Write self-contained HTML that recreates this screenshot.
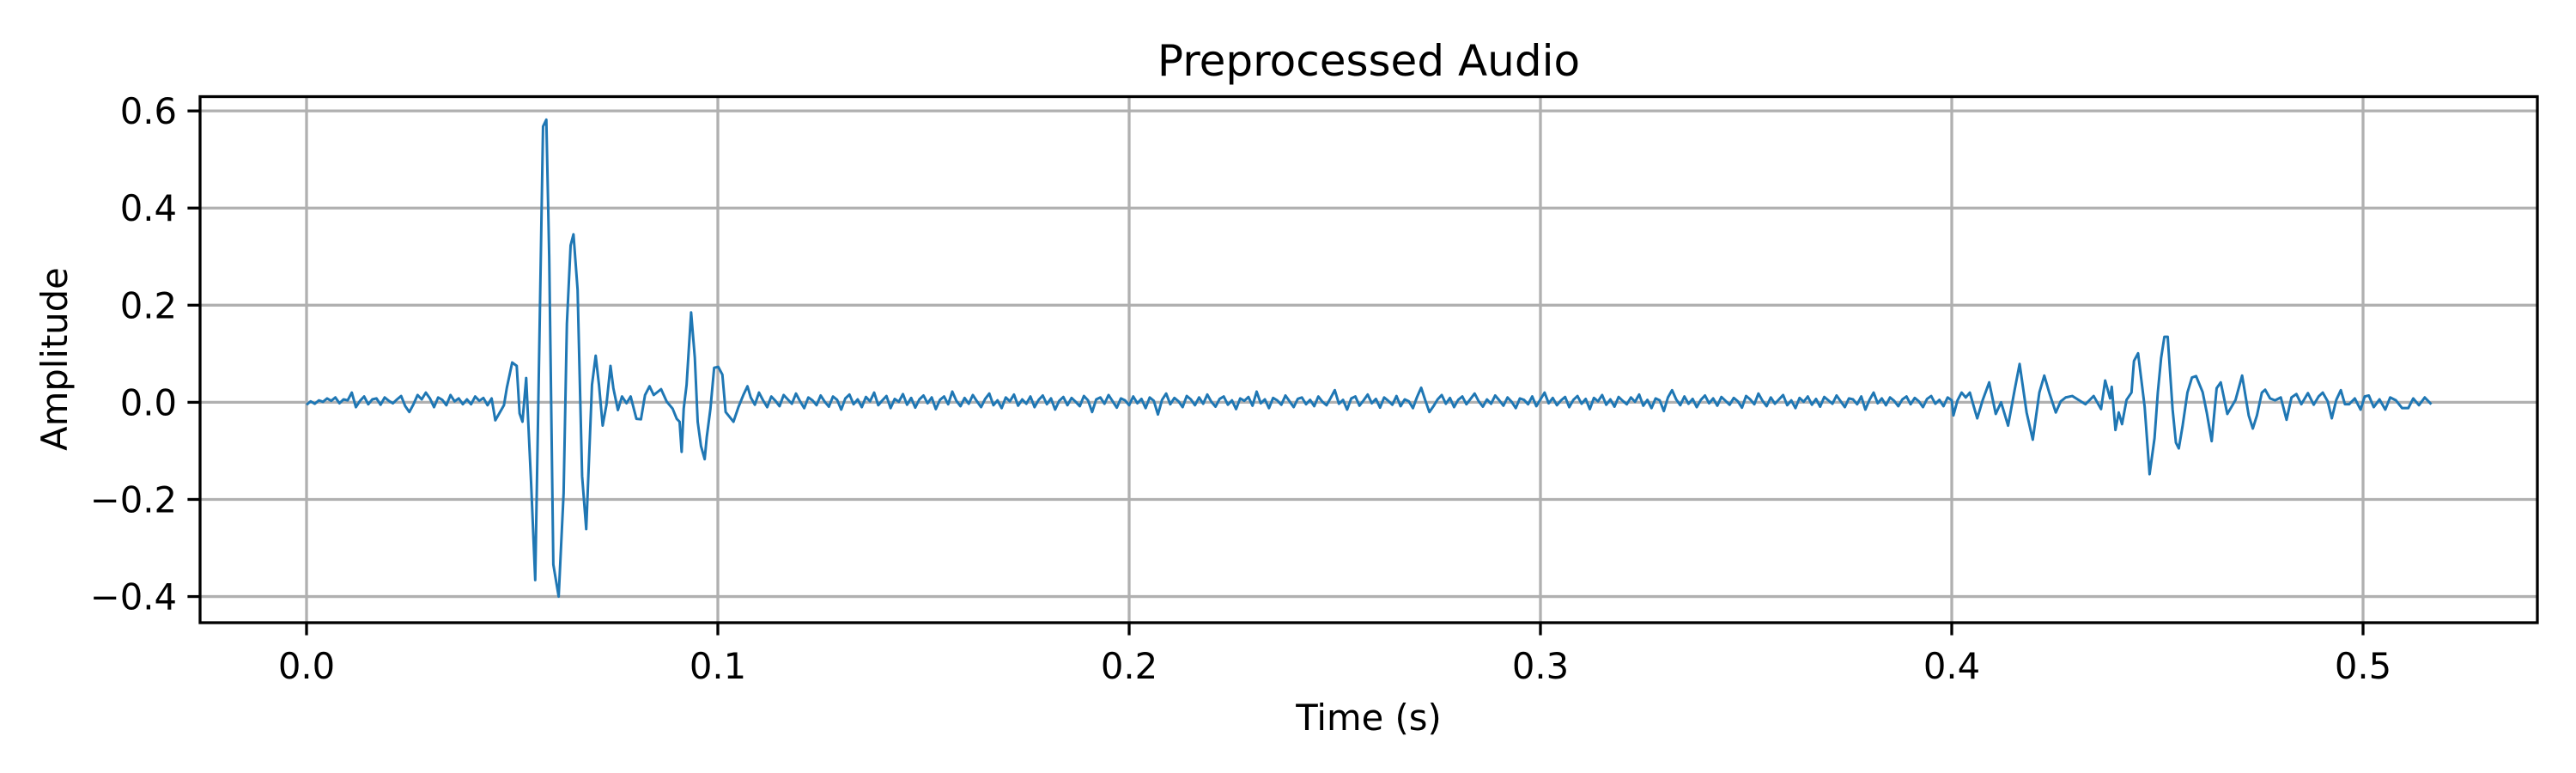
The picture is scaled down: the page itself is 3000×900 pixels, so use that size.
<!DOCTYPE html>
<html><head><meta charset="utf-8"><style>
html,body{margin:0;padding:0;background:#fff;}
svg{display:block;font-family:"DejaVu Sans","Liberation Sans",sans-serif;}
</style></head><body>
<svg id="chart" width="3000" height="900" viewBox="0 0 3000 900">
<rect x="0" y="0" width="3000" height="900" fill="#fff"/>
<g id="grid"></g>
<g id="series"></g>
<rect x="233" y="112.5" width="2722" height="612.5" fill="none" stroke="#000" stroke-width="3.3"/>
<g id="ticks"></g>
<text x="1594" y="88" font-size="50" text-anchor="middle">Preprocessed Audio</text>
<text x="1594" y="850" font-size="41.7" text-anchor="middle">Time (s)</text>
<text x="0" y="0" font-size="41.7" text-anchor="middle" transform="translate(78,418) rotate(-90)">Amplitude</text>
</svg>
<script>
const xTicks = [0.0, 0.1, 0.2, 0.3, 0.4, 0.5];
const xTickLabels = ["0.0", "0.1", "0.2", "0.3", "0.4", "0.5"];
const yTicks = [-0.4, -0.2, 0.0, 0.2, 0.4, 0.6];
const yTickLabels = ["\u22120.4", "\u22120.2", "0.0", "0.2", "0.4", "0.6"];

const segAStart = 0.0;
const segAStep = 0.001;
const segAValues = [-0.005,0.002,-0.003,0.004,0.001,0.008,0.003,0.01,-0.002,0.006,0.004,0.02,-0.01,0.003,0.012,-0.004,0.006,0.008,-0.005,0.01,0.003,-0.002,0.006,0.013,-0.008,-0.02,-0.004,0.015,0.006,0.02,0.008,-0.01,0.01,0.005,-0.006,0.015,0.002,0.008,-0.004];

const burst1Times = [0.039,0.040,0.041,0.042,0.043,0.044,0.045,0.0459,0.048,0.0487,0.0500,0.0511,0.0518,0.0525,0.0534,0.0546,0.0556,0.0564,0.0575,0.0583,0.0590,0.0600,0.0613,0.0625,0.0633,0.0642,0.0649,0.0659,0.0670,0.0680,0.0694,0.0703,0.0711,0.0720,0.0729,0.0739,0.0746,0.0757,0.0767,0.0778,0.0788,0.0802,0.0813,0.0823,0.0834,0.0844,0.0862,0.0876,0.0890,0.0900,0.0907,0.0912,0.0917,0.0924,0.0935,0.0944,0.0951,0.0959,0.0968,0.0973,0.0982,0.0991,0.1001,0.1011,0.1019,0.1038,0.1050,0.1062,0.1072];
const burst1Values = [0.006,-0.004,0.012,0.003,0.009,-0.006,0.008,-0.037,-0.006,0.03,0.082,0.075,-0.023,-0.04,0.05,-0.166,-0.366,0.022,0.568,0.582,0.30,-0.334,-0.40,-0.187,0.162,0.323,0.346,0.232,-0.152,-0.261,0.036,0.096,0.036,-0.048,-0.006,0.075,0.029,-0.016,0.012,-0.002,0.012,-0.034,-0.035,0.015,0.033,0.015,0.027,0.001,-0.013,-0.034,-0.04,-0.102,-0.013,0.036,0.185,0.092,-0.04,-0.09,-0.117,-0.072,-0.013,0.071,0.073,0.057,-0.02,-0.04,-0.01,0.015,0.033];

const segBStart = 0.108;
const segBStep = 0.001;
const segBValues = [0.01,-0.005,0.02,0.004,-0.01,0.012,0.003,-0.008,0.015,0.006,-0.003,0.018,0.002,-0.012,0.01,0.004,-0.006,0.014,0.001,-0.009,
0.012,0.005,-0.015,0.008,0.016,-0.004,0.006,-0.01,0.011,0.002,0.02,-0.006,0.004,0.013,-0.012,0.007,0.001,0.017,-0.005,0.009,
-0.011,0.006,0.014,-0.002,0.01,-0.014,0.005,0.012,-0.004,0.022,0.003,-0.008,0.009,-0.003,0.015,0.002,-0.01,0.007,0.018,-0.006,
0.004,-0.012,0.01,0.002,0.016,-0.007,0.006,-0.003,0.012,-0.01,0.005,0.014,-0.004,0.008,-0.015,0.003,0.011,-0.006,0.009,0.001,
-0.008,0.013,0.004,-0.02,0.006,0.01,-0.003,0.015,0.002,-0.011,0.008,0.004,-0.006,0.012,-0.002,0.007,-0.012,0.01,0.003,-0.025,
0.005,0.018,-0.004,0.009,0.002,-0.01,0.013,0.006,-0.006,0.01,-0.003,0.016,0.001,-0.009,0.007,0.012,-0.005,0.004,-0.014,0.008,
0.003,0.011,-0.007,0.022,-0.002,0.006,-0.012,0.009,0.004,-0.005,0.014,0.002,-0.01,0.007,0.01,-0.004,0.005,-0.008,0.012,0.001,
-0.006,0.009,0.025,-0.003,0.005,-0.015,0.008,0.012,-0.007,0.004,0.016,-0.002,0.007,-0.011,0.01,0.003,-0.005,0.013,-0.008,0.006,
0.002,-0.012,0.011,0.03,0.004,-0.02,-0.008,0.006,0.015,-0.003,0.009,-0.01,0.005,0.012,-0.004,0.007,0.018,0.002,-0.009,0.006,
-0.003,0.014,0.004,-0.007,0.01,0.001,-0.012,0.008,0.005,-0.004,0.012,-0.008,0.006,0.02,-0.002,0.009,-0.006,0.004,0.011,-0.01,
0.005,0.013,-0.003,0.007,-0.014,0.009,0.002,0.015,-0.005,0.006,-0.009,0.011,0.003,-0.004,0.01,0.001,0.016,-0.007,0.005,-0.012,
0.008,0.004,-0.018,0.01,0.025,0.006,-0.006,0.012,-0.003,0.007,-0.01,0.005,0.014,-0.002,0.008,-0.007,0.011,0.003,-0.005,0.009,
0.002,-0.011,0.013,0.006,-0.004,0.018,0.003,-0.008,0.01,-0.003,0.006,0.015,-0.006,0.004,-0.012,0.009,0.001,0.012,-0.005,0.007,
-0.009,0.011,0.004,-0.003,0.014,0.002,-0.01,0.008,0.006,-0.004,0.012,-0.015,0.005,0.02,-0.002,0.008,-0.006,0.01,0.003,-0.008,
0.006,0.012,-0.004,0.009,0.002,-0.01,0.007,0.013,-0.003,0.005,-0.008,0.01,0.004];

const burst2Times = [0.4004,0.4014,0.4024,0.4034,0.4044,0.4054,0.4062,0.4075,0.4091,0.4107,0.4120,0.4137,0.4153,0.4165,0.4182,0.4197,0.4213,0.4225,0.4237,0.4253,0.4265,0.4277,0.4293,0.4310,0.4325,0.4345,0.4363,0.4373,0.4385,0.4389,0.4398,0.4406,0.4414,0.4425,0.4437,0.4443,0.4453,0.4469,0.4481,0.4493,0.4501,0.4509,0.4517,0.4525,0.4537,0.4545,0.4552,0.4561,0.4573,0.4584,0.4594,0.4610,0.4620,0.4632,0.4644,0.4654,0.4670,0.4690,0.4706,0.4722,0.4732,0.4742,0.4754,0.4762,0.4774,0.4786,0.4800,0.4814,0.4826,0.4838,0.4850,0.4866,0.4880,0.4892,0.4902,0.4914,0.4924,0.4935,0.4946,0.4956,0.4966,0.4980,0.4994,0.5004,0.5014,0.5026,0.5040,0.5054,0.5066,0.5080,0.5095,0.5110,0.5122,0.5136,0.5150,0.5166];
const burst2Values = [-0.027,0.004,0.02,0.01,0.02,-0.01,-0.033,0.004,0.041,-0.024,0.0,-0.048,0.026,0.079,-0.021,-0.077,0.02,0.055,0.02,-0.021,0.002,0.01,0.013,0.004,-0.004,0.013,-0.014,0.045,0.008,0.032,-0.057,-0.021,-0.045,0.005,0.02,0.085,0.101,-0.009,-0.148,-0.074,0.02,0.091,0.135,0.135,-0.015,-0.083,-0.095,-0.05,0.02,0.051,0.054,0.021,-0.021,-0.08,0.029,0.041,-0.024,0.005,0.055,-0.027,-0.054,-0.027,0.02,0.026,0.008,0.004,0.01,-0.036,0.01,0.017,-0.004,0.019,-0.005,0.012,0.02,0.002,-0.033,0.005,0.025,-0.004,-0.004,0.008,-0.015,0.012,0.014,-0.01,0.006,-0.015,0.01,0.004,-0.012,-0.012,0.008,-0.006,0.01,-0.004];

const X0 = 357, XPER = 4790, Y0 = 468.4, YPER = 565.4;
const L = 233, R = 2955, T = 112.5, B = 725;
function xS(t){ return X0 + t * XPER; }
function yS(v){ return Y0 - v * YPER; }
const NS = "http://www.w3.org/2000/svg";

const grid = document.getElementById('grid');
const ticks = document.getElementById('ticks');
xTicks.forEach((t, i) => {
  const x = xS(t);
  const g = document.createElementNS(NS, 'line');
  g.setAttribute('x1', x); g.setAttribute('x2', x); g.setAttribute('y1', T); g.setAttribute('y2', B);
  g.setAttribute('stroke', '#b0b0b0'); g.setAttribute('stroke-width', '3.3');
  
  
  grid.appendChild(g);
  const tk = document.createElementNS(NS, 'line');
  tk.setAttribute('x1', x); tk.setAttribute('x2', x); tk.setAttribute('y1', B); tk.setAttribute('y2', B + 14.6);
  tk.setAttribute('stroke', '#000'); tk.setAttribute('stroke-width', '3.3');
  
  
  ticks.appendChild(tk);
  const lb = document.createElementNS(NS, 'text');
  lb.setAttribute('x', x); lb.setAttribute('y', 790); lb.setAttribute('font-size', '41.7'); lb.setAttribute('text-anchor', 'middle');
  lb.textContent = xTickLabels[i];
  
  
  ticks.appendChild(lb);
});
yTicks.forEach((v, i) => {
  const y = yS(v);
  const g = document.createElementNS(NS, 'line');
  g.setAttribute('x1', L); g.setAttribute('x2', R); g.setAttribute('y1', y); g.setAttribute('y2', y);
  g.setAttribute('stroke', '#b0b0b0'); g.setAttribute('stroke-width', '3.3');
  
  
  grid.appendChild(g);
  const tk = document.createElementNS(NS, 'line');
  tk.setAttribute('x1', L - 14.6); tk.setAttribute('x2', L); tk.setAttribute('y1', y); tk.setAttribute('y2', y);
  tk.setAttribute('stroke', '#000'); tk.setAttribute('stroke-width', '3.3');
  
  
  ticks.appendChild(tk);
  const lb = document.createElementNS(NS, 'text');
  lb.setAttribute('x', L - 27); lb.setAttribute('y', y + 15); lb.setAttribute('font-size', '41.7'); lb.setAttribute('text-anchor', 'end');
  lb.textContent = yTickLabels[i];
  
  
  ticks.appendChild(lb);
});

const pts = [];
segAValues.forEach((v, i) => pts.push([segAStart + i * segAStep, v]));
burst1Times.forEach((t, i) => pts.push([t, burst1Values[i]]));
segBValues.forEach((v, i) => pts.push([segBStart + i * segBStep, v]));
burst2Times.forEach((t, i) => pts.push([t, burst2Values[i]]));
pts.sort((a, b) => a[0] - b[0]);
let d = '';
pts.forEach((p, i) => { d += (i ? 'L' : 'M') + xS(p[0]).toFixed(2) + ',' + yS(p[1]).toFixed(2); });
const path = document.createElementNS(NS, 'path');
path.setAttribute('d', d);
path.setAttribute('fill', 'none');
path.setAttribute('stroke', '#1f77b4');
path.setAttribute('stroke-width', '3');
path.setAttribute('stroke-linejoin', 'round');


document.getElementById('series').appendChild(path);
</script>
</body></html>
